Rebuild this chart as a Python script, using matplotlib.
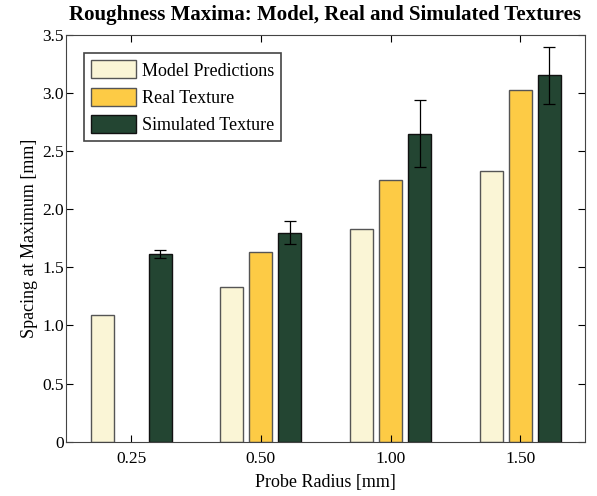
import numpy as np
import matplotlib
matplotlib.use('Agg')
import matplotlib.pyplot as plt
from matplotlib.ticker import FuncFormatter

plt.rcParams['font.family'] = ['Liberation Serif', 'DejaVu Serif']

radii = ['0.25', '0.50', '1.00', '1.50']
model = [1.09, 1.33, 1.83, 2.33]
real = [np.nan, 1.63, 2.25, 3.03]
simulated = [1.615, 1.80, 2.65, 3.155]
sim_err = [0.036, 0.10, 0.29, 0.245]

fig = plt.figure(figsize=(5.97, 4.96), dpi=100)
ax = fig.add_axes([0.110, 0.1095, 0.870, 0.820])

x = np.arange(len(radii))
w = 0.178
off = 0.224
ax.bar(x - off, model, w, color='#FAF5D6', edgecolor='#555555', lw=1, label='Model Predictions')
ax.bar(x, real, w, color='#FDCB45', edgecolor='#555555', lw=1, label='Real Texture')
ax.bar(x + off, simulated, w, color='#234532', edgecolor='#111111', lw=1, label='Simulated Texture')
ax.errorbar(x + off, simulated, yerr=sim_err, fmt='none', ecolor='black', elinewidth=0.9, capsize=4, capthick=0.9)

ax.set_xlim(-0.505, 3.5)
ax.set_ylim(0, 3.5)
ax.set_xticks(x)
ax.set_xticklabels(radii)
ax.set_yticks(np.arange(0, 3.51, 0.5))
ax.yaxis.set_major_formatter(FuncFormatter(lambda v, p: '0' if v == 0 else f'{v:.1f}'))
ax.tick_params(direction='in', top=True, right=True, labelsize=12.5, length=5)
ax.tick_params(axis='y', pad=1.5)
ax.tick_params(axis='x', pad=7)
for s in ax.spines.values():
    s.set_color('#444444')

ax.set_xlabel('Probe Radius [mm]', fontsize=13, labelpad=5)
ax.set_ylabel('Spacing at Maximum [mm]', fontsize=13, labelpad=3)
ax.set_title('Roughness Maxima: Model, Real and Simulated Textures', fontsize=15, fontweight='bold', pad=11)

leg = ax.legend(loc='upper left', bbox_to_anchor=(0.035, 0.955), fontsize=13, fancybox=False,
                edgecolor='#444444', framealpha=1, handlelength=2.5, handleheight=1.15,
                handletextpad=0.3, labelspacing=0.45, borderpad=0.4, borderaxespad=0)
leg.get_frame().set_linewidth(1.2)

fig.savefig('out.png', dpi=100)
